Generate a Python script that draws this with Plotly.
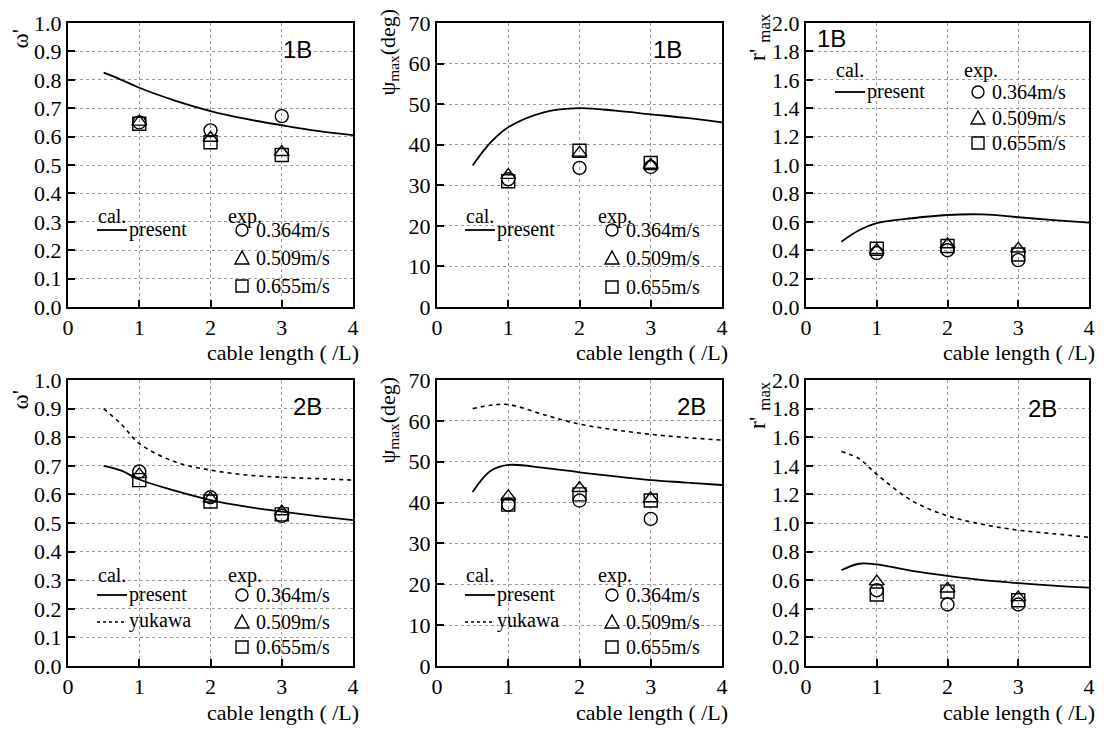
import plotly.graph_objects as go

W, H = 1105, 731

# ---------------- data ----------------
x_curve = [0.5, 0.75, 1.0, 1.5, 2.0, 2.5, 3.0, 3.5, 4.0]
x_exp = [1, 2, 3]

# 1B : omega'
w1_present = [0.825, 0.800, 0.772, 0.727, 0.690, 0.662, 0.640, 0.620, 0.605]
w1_364 = [0.650, 0.622, 0.672]
w1_509 = [0.652, 0.595, 0.545]
w1_655 = [0.645, 0.580, 0.535]

# 1B : psi_max (deg)
p1_present = [34.9, 40.5, 44.3, 48.0, 49.0, 48.4, 47.5, 46.6, 45.5]
p1_364 = [31.5, 34.3, 34.5]
p1_509 = [32.5, 38.0, 35.0]
p1_655 = [31.0, 38.5, 35.5]

# 1B : r'_max
r1_present = [0.46, 0.54, 0.59, 0.625, 0.648, 0.652, 0.632, 0.612, 0.594]
r1_364 = [0.38, 0.40, 0.33]
r1_509 = [0.40, 0.44, 0.41]
r1_655 = [0.41, 0.43, 0.37]

# 2B : omega'
w2_present = [0.700, 0.683, 0.652, 0.613, 0.580, 0.557, 0.540, 0.524, 0.510]
w2_yukawa = [0.900, 0.845, 0.778, 0.714, 0.685, 0.668, 0.660, 0.655, 0.650]
w2_364 = [0.680, 0.590, 0.525]
w2_509 = [0.670, 0.585, 0.540]
w2_655 = [0.650, 0.575, 0.530]

# 2B : psi_max (deg)
p2_present = [42.6, 47.7, 49.2, 48.5, 47.4, 46.4, 45.5, 44.9, 44.3]
p2_yukawa = [63.0, 63.8, 64.0, 61.5, 59.2, 57.8, 56.7, 55.9, 55.3]
p2_364 = [39.5, 40.5, 36.0]
p2_509 = [41.5, 43.5, 41.0]
p2_655 = [39.5, 42.0, 40.5]

# 2B : r'_max
r2_present = [0.67, 0.715, 0.71, 0.665, 0.63, 0.60, 0.58, 0.562, 0.548]
r2_yukawa = [1.50, 1.45, 1.34, 1.155, 1.05, 0.99, 0.95, 0.925, 0.90]
r2_364 = [0.53, 0.43, 0.43]
r2_509 = [0.59, 0.54, 0.48]
r2_655 = [0.50, 0.52, 0.46]

x_ticks = [0, 1, 2, 3, 4]
speed_labels = ["0.364m/s", "0.509m/s", "0.655m/s"]
panel_tags = ["1B", "1B", "1B", "2B", "2B", "2B"]

# ---------------- layout helpers ----------------
OFF = 8  # page body margin in the browser


def px(x):
    return (x - OFF) / W


def py(y):
    return 1 - (y - OFF) / H


cols = [(68, 353), (437, 722), (806, 1089)]
rows = [(23, 307), (380, 666)]

SERIF = "Liberation Serif"
SANS = "Liberation Sans"

panels = [
    dict(pres=w1_present, yuk=None, e=[w1_364, w1_509, w1_655], yr=[0, 1.0], dt=0.1, fmt=".1f"),
    dict(pres=p1_present, yuk=None, e=[p1_364, p1_509, p1_655], yr=[0, 70], dt=10, fmt="d"),
    dict(pres=r1_present, yuk=None, e=[r1_364, r1_509, r1_655], yr=[0, 2.0], dt=0.2, fmt=".1f"),
    dict(pres=w2_present, yuk=w2_yukawa, e=[w2_364, w2_509, w2_655], yr=[0, 1.0], dt=0.1, fmt=".1f"),
    dict(pres=p2_present, yuk=p2_yukawa, e=[p2_364, p2_509, p2_655], yr=[0, 70], dt=10, fmt="d"),
    dict(pres=r2_present, yuk=r2_yukawa, e=[r2_364, r2_509, r2_655], yr=[0, 2.0], dt=0.2, fmt=".1f"),
]

symbols = ["circle-open", "triangle-up-open", "square-open"]

fig = go.Figure()
layout = dict(
    template="none",
    width=W, height=H,
    margin=dict(l=0, r=0, t=0, b=0, pad=0, autoexpand=False),
    paper_bgcolor="white", plot_bgcolor="white",
    showlegend=False,
    font=dict(family=SERIF, size=22, color="black"),
)
annotations = []
shapes = []

for i, p in enumerate(panels):
    r, c = divmod(i, 3)
    n = "" if i == 0 else str(i + 1)
    xa, ya = "x" + n, "y" + n
    x0, x1 = cols[c]
    y0, y1 = rows[r]
    common = dict(
        showline=True, mirror=True, linecolor="black", linewidth=2,
        ticks="inside", ticklen=7, tickwidth=1.5, tickcolor="black",
        showgrid=True, gridcolor="#9a9a9a", gridwidth=1, griddash="dot",
        zeroline=False, automargin=False,
        tickfont=dict(size=22, family=SERIF, color="black"),
    )
    layout["xaxis" + n] = dict(domain=[px(x0), px(x1)], range=[0, 4], tickvals=x_ticks,
                               anchor=ya, **common)
    layout["yaxis" + n] = dict(domain=[py(y1), py(y0)], range=p["yr"], dtick=p["dt"],
                               tickformat=p["fmt"], anchor=xa, **common)
    # curves
    fig.add_trace(go.Scatter(x=x_curve, y=p["pres"], mode="lines", line_shape="spline",
                             line=dict(color="black", width=1.8), xaxis=xa, yaxis=ya))
    if p["yuk"] is not None:
        fig.add_trace(go.Scatter(x=x_curve, y=p["yuk"], mode="lines", line_shape="spline",
                                 line=dict(color="black", width=1.6, dash="4px,4px"),
                                 xaxis=xa, yaxis=ya))
    for vals, sym in zip(p["e"], symbols):
        fig.add_trace(go.Scatter(x=x_exp, y=vals, mode="markers",
                                 marker=dict(symbol=sym, size=13, color="black",
                                             line=dict(width=1.4, color="black")),
                                 xaxis=xa, yaxis=ya))
    # x-axis title
    annotations.append(dict(text="cable length ( /L)", xref="paper", yref="paper",
                            x=px(x1 + 7), y=py(y1 + 46), xanchor="right", yanchor="middle",
                            showarrow=False, borderpad=0, font=dict(size=22, family=SERIF)))

# y-axis titles
ytitles = [
    ("ω'", 20, 29, 23), ("ψ<sub>max</sub>(deg)", 388, 8, 22), ("r' <sub>max</sub>", 759, 12, 24),
    ("ω'", 20, 390, 23), ("ψ<sub>max</sub>(deg)", 388, 376, 22), ("r' <sub>max</sub>", 759, 380, 24),
]
for t, xx, yy, fs in ytitles:
    annotations.append(dict(text=t, xref="paper", yref="paper", x=px(xx), y=py(yy),
                            xanchor="center", yanchor="top", textangle=-90, showarrow=False,
                            borderpad=0, font=dict(size=fs, family=SERIF)))

# panel tags (1B / 2B)
tag_pos = [(313, 49, "right"), (683, 49, "right"), (816, 39, "left"),
           (323, 407, "right"), (707, 407, "right"), (1058, 408, "right")]
for tag, (xx, yy, anc) in zip(panel_tags, tag_pos):
    annotations.append(dict(text=tag, xref="paper", yref="paper", x=px(xx), y=py(yy),
                            xanchor=anc, yanchor="middle", showarrow=False, borderpad=0,
                            font=dict(size=24, family=SANS)))


# legend marker shapes (circle / triangle / square), size in px
def marker_shape(kind, cx, cy, s=12):
    h = s / 2
    if kind == 0:
        return dict(type="circle", xref="paper", yref="paper",
                    x0=px(cx - h), x1=px(cx + h), y0=py(cy + h), y1=py(cy - h),
                    line=dict(color="black", width=1.4))
    if kind == 1:
        path = "M {:.5f},{:.5f} L {:.5f},{:.5f} L {:.5f},{:.5f} Z".format(
            px(cx), py(cy - h - 1), px(cx - h - 1), py(cy + h), px(cx + h + 1), py(cy + h))
        return dict(type="path", xref="paper", yref="paper", path=path,
                    line=dict(color="black", width=1.4))
    return dict(type="rect", xref="paper", yref="paper",
                x0=px(cx - h), x1=px(cx + h), y0=py(cy + h), y1=py(cy - h),
                line=dict(color="black", width=1.4))


# legends (cal. / exp.)
legend_specs = [
    # cal_x, exp_x, head_y, row ys, has_yukawa
    (97, 227, 216, [230, 258, 286], False),
    (465, 597, 216, [230, 258, 287], False),
    (835, 963, 70, [92, 118, 143], False),
    (97, 227, 575, [595, 622, 647], True),
    (465, 597, 575, [595, 622, 647], True),
]
for cx, ex, hy, ys, yk in legend_specs:
    for txt, xx in (("cal.", cx), ("exp.", ex)):
        annotations.append(dict(text=txt, xref="paper", yref="paper", x=px(xx), y=py(hy),
                                xanchor="left", yanchor="middle", showarrow=False, borderpad=0,
                                font=dict(size=20, family=SERIF)))
    shapes.append(dict(type="line", xref="paper", yref="paper",
                       x0=px(cx), x1=px(cx + 30), y0=py(ys[0]), y1=py(ys[0]),
                       line=dict(color="black", width=1.8)))
    annotations.append(dict(text="present", xref="paper", yref="paper", x=px(cx + 31), y=py(ys[0] - 1),
                            xanchor="left", yanchor="middle", showarrow=False, borderpad=0,
                            font=dict(size=20, family=SERIF)))
    if yk:
        shapes.append(dict(type="line", xref="paper", yref="paper",
                           x0=px(cx), x1=px(cx + 30), y0=py(ys[1]), y1=py(ys[1]),
                           line=dict(color="black", width=1.6, dash="3px,3px")))
        annotations.append(dict(text="yukawa", xref="paper", yref="paper", x=px(cx + 31), y=py(ys[1] - 2),
                                xanchor="left", yanchor="middle", showarrow=False, borderpad=0,
                                font=dict(size=20, family=SERIF)))
    for k, (lab, yy) in enumerate(zip(speed_labels, ys)):
        shapes.append(marker_shape(k, ex + 15, yy))
        annotations.append(dict(text=lab, xref="paper", yref="paper", x=px(ex + 28), y=py(yy),
                                xanchor="left", yanchor="middle", showarrow=False, borderpad=0,
                                font=dict(size=20, family=SERIF)))

layout["annotations"] = annotations
layout["shapes"] = shapes
fig.update_layout(**layout)
fig.write_html("out.html")
